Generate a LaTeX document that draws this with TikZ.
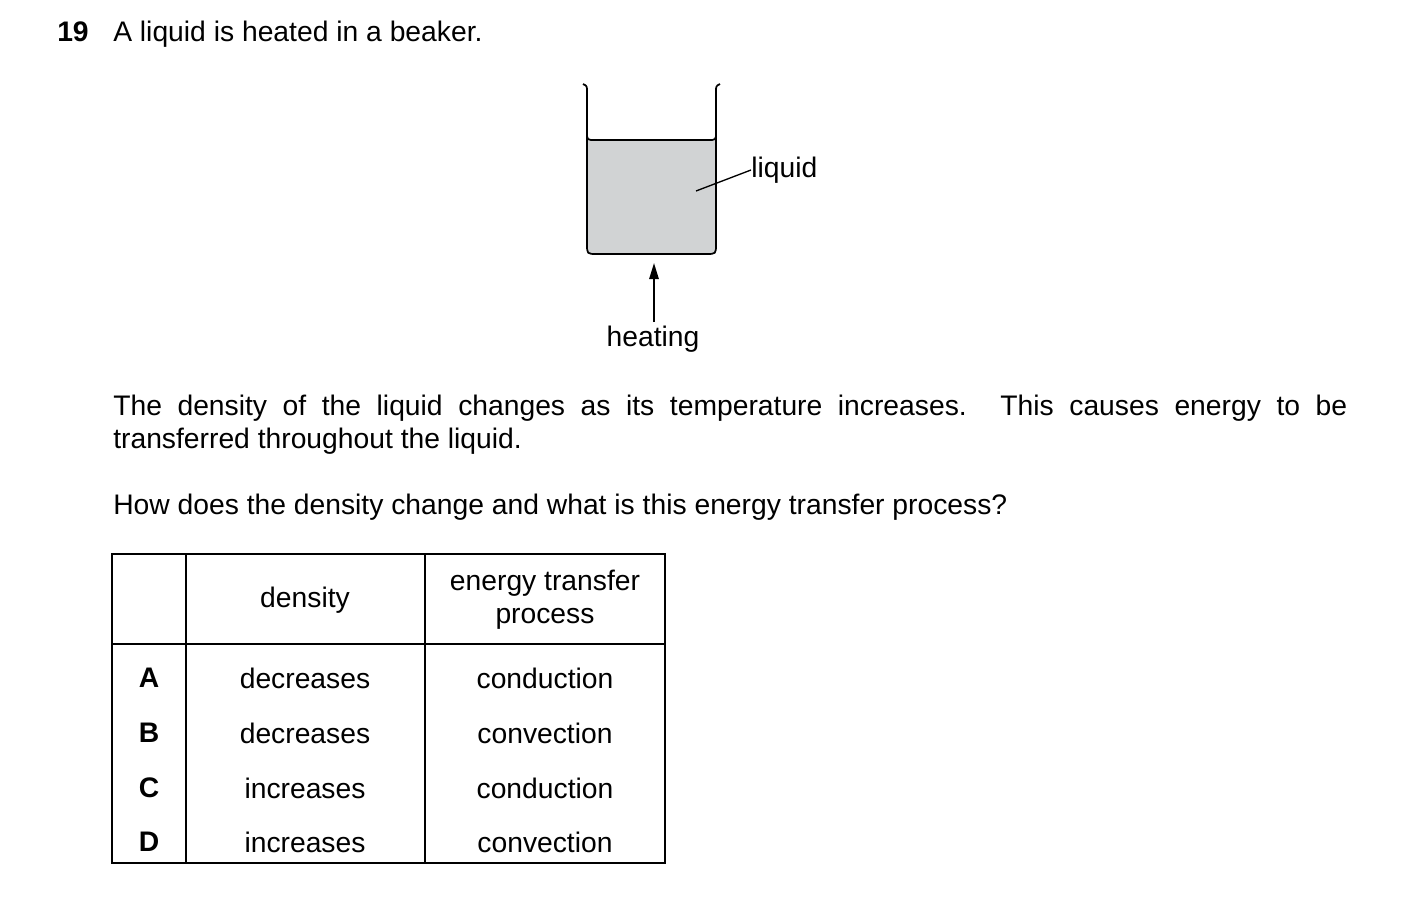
\documentclass[tikz,border=0pt]{standalone}
\usepackage{fontspec}
\setmainfont{Liberation Sans}
\usetikzlibrary{arrows.meta}
\begin{document}
\begin{tikzpicture}[x=0.75pt,y=-0.75pt,
  txt/.style={font=\fontsize{21.2}{24.75}\selectfont,inner sep=0pt},
  ln/.style={line width=1.3pt,black}]
\useasboundingbox (0,0) rectangle (1403,914);
\node[txt,anchor=base west,font=\fontsize{21.2}{24.75}\selectfont\bfseries] (num) at (57,41) {19};
\node[txt,anchor=base west] (q) at (113,41) {A liquid is heated in a beaker.};
% beaker
\fill[fill={rgb,255:red,209;green,211;blue,212}] (588,140) -- (588,244) .. controls (588,254) .. (598,254) -- (706,254) .. controls (716,254) .. (716,244) -- (716,140) -- cycle;
\draw[ln] (583,84) .. controls (587,86) .. (587,92) -- (587,244) .. controls (587,254) .. (597,254) -- (706,254) .. controls (716,254) .. (716,244) -- (716,92) .. controls (716,86) .. (720,84);
\draw[ln] (587,132) .. controls (587,140) .. (595,140) -- (708,140) .. controls (716,140) .. (716,132);
\coordinate (lp) at (696,191);
\node[txt,anchor=west] (liq) at (751,170) {liquid};
\draw[line width=1pt] (lp) -- (liq.west);
\coordinate (as) at (654,322);
\coordinate (ae) at (654,263);
\draw[line width=1.3pt,-{Triangle[length=12pt,width=7pt]}] (as) -- (ae);
\node[txt,anchor=base] (heat) at (653,346) {heating};
% paragraph
\node[txt,anchor=base west,text width=1234*0.75pt,align=justify] (p1) at (113,415) {\hyphenpenalty=10000 The density of the liquid changes as its temperature increases. This causes energy to be\linebreak transferred throughout the liquid.};
\node[txt,anchor=base west] (p2) at (113,514) {How does the density change and what is this energy transfer process?};
% table
\draw[line width=1pt] (112,554) rectangle (665,863);
\draw[line width=1pt] (186,554) -- (186,863) (425,554) -- (425,863) (112,644) -- (665,644);
\node[txt] (hd) at (305,600) {density};
\node[txt,align=center] (he) at (545,600) {energy transfer\\process};
\foreach \l/\d/\e/\y in {A/decreases/conduction/678,B/decreases/convection/733,C/increases/conduction/788,D/increases/convection/842}{
  \node[txt,font=\fontsize{21.2}{24.75}\selectfont\bfseries] (r\l) at (149,\y) {\l};
  \node[txt] (d\l) at (305,\y) {\d};
  \node[txt] (e\l) at (545,\y) {\e};
}
\end{tikzpicture}
\end{document}
